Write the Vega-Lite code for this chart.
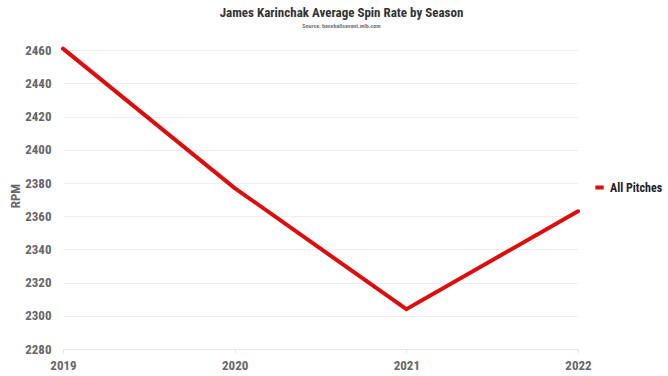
{
  "$schema": "https://vega.github.io/schema/vega-lite/v6.json",
  "autosize": "none",
  "width": 515,
  "height": 307,
  "padding": {"left": 63, "top": 42, "right": 90, "bottom": 27},
  "background": "white",
  "title": {
    "text": "James Karinchak Average Spin Rate by Season",
    "subtitle": "Source: baseballsavant.mlb.com",
    "font": "Roboto Condensed, Liberation Sans Narrow, DejaVu Sans Condensed, Roboto",
    "fontSize": 13,
    "fontWeight": "bold",
    "color": "#333333",
    "subtitleFont": "Roboto Condensed, Liberation Sans Narrow, DejaVu Sans Condensed, Roboto",
    "subtitleFontSize": 6,
    "subtitleFontWeight": "bold",
    "subtitleColor": "#777777",
    "subtitlePadding": 3,
    "anchor": "middle",
    "dx": 21,
    "offset": 12
  },
  "data": {
    "values": [
      {"season": 2019, "rpm": 2461, "series": "All Pitches"},
      {"season": 2020, "rpm": 2377, "series": "All Pitches"},
      {"season": 2021, "rpm": 2304, "series": "All Pitches"},
      {"season": 2022, "rpm": 2363, "series": "All Pitches"}
    ]
  },
  "mark": {"type": "line", "strokeWidth": 4, "strokeCap": "round", "strokeJoin": "miter"},
  "encoding": {
    "x": {
      "field": "season",
      "type": "quantitative",
      "scale": {"domain": [2019, 2022], "nice": false, "zero": false},
      "axis": {
        "values": [2019, 2020, 2021, 2022],
        "format": "d",
        "title": null,
        "grid": false,
        "domain": true,
        "domainColor": "#e6e6e6",
        "tickColor": "#e6e6e6",
        "tickSize": 4,
        "labelPadding": 6,
        "labelFont": "Roboto Condensed, Liberation Sans Narrow, DejaVu Sans Condensed, Roboto",
        "labelFontSize": 13,
        "labelFontWeight": "bold",
        "labelColor": "#666666",
        "labelFlush": false
      }
    },
    "y": {
      "field": "rpm",
      "type": "quantitative",
      "scale": {"domain": [2280, 2465], "nice": false, "zero": false},
      "axis": {
        "values": [2280, 2300, 2320, 2340, 2360, 2380, 2400, 2420, 2440, 2460],
        "format": "d",
        "title": "RPM",
        "titleFont": "Roboto Condensed, Liberation Sans Narrow, DejaVu Sans Condensed, Roboto",
        "titleFontSize": 13,
        "titleFontWeight": "bold",
        "titleColor": "#666666",
        "titlePadding": 2,
        "domain": false,
        "ticks": false,
        "grid": true,
        "gridColor": "#eeeeee",
        "labelPadding": 12,
        "labelFont": "Roboto Condensed, Liberation Sans Narrow, DejaVu Sans Condensed, Roboto",
        "labelFontSize": 13,
        "labelFontWeight": "bold",
        "labelColor": "#666666"
      }
    },
    "color": {
      "field": "series",
      "type": "nominal",
      "scale": {"range": ["#dd0d0d"]},
      "legend": {
        "title": null,
        "orient": "none",
        "legendX": 530,
        "legendY": 139,
        "symbolType": "stroke",
        "symbolStrokeWidth": 4,
        "symbolSize": 70,
        "labelFont": "Roboto Condensed, Liberation Sans Narrow, DejaVu Sans Condensed, Roboto",
        "labelFontSize": 12,
        "labelFontWeight": "bold",
        "labelColor": "#222222",
        "labelOffset": 4
      }
    }
  },
  "config": {"view": {"stroke": null}}
}
